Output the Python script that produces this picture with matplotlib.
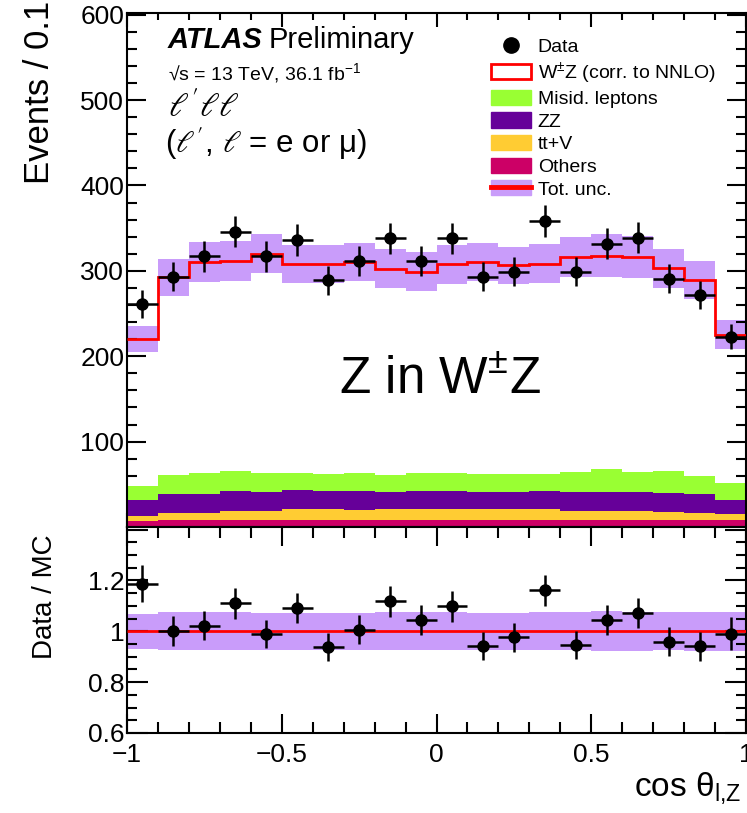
import numpy as np
import matplotlib
matplotlib.use('Agg')
import matplotlib.pyplot as plt
from matplotlib.patches import Patch
from matplotlib.lines import Line2D
from matplotlib.ticker import MultipleLocator, FuncFormatter

plt.rcParams['font.family'] = ['Liberation Sans', 'DejaVu Sans']
plt.rcParams['mathtext.fontset'] = 'custom'
plt.rcParams['mathtext.rm'] = 'Liberation Sans'
plt.rcParams['mathtext.it'] = 'Liberation Sans:italic'
plt.rcParams['mathtext.bf'] = 'Liberation Sans:bold'

# ---------------- data ----------------
bin_low, bin_high, n_bins = -1.0, 1.0, 20
data_counts = [261, 293, 317, 346, 317, 336, 289, 312, 338, 312,
               338, 293, 299, 358, 299, 332, 339, 291, 272, 223]
others = [7.0, 8.2, 8.2, 8.2, 8.2, 8.2, 8.2, 8.2, 8.2, 8.2,
          8.2, 8.2, 8.2, 8.2, 8.2, 8.2, 8.2, 8.2, 8.2, 8.2]
ttv = [5.9, 7.8, 7.8, 10.6, 10.6, 12.5, 12.5, 11.4, 12.5, 12.5,
       12.5, 12.5, 12.5, 12.5, 10.6, 10.6, 10.6, 9.4, 8.2, 6.7]
zz = [18.4, 22.3, 22.3, 23.5, 22.3, 22.7, 21.9, 23.0, 20.4, 21.6,
      21.6, 20.4, 20.4, 21.6, 22.3, 22.3, 22.3, 21.9, 21.9, 16.4]
misid = [16.8, 22.3, 25.5, 23.4, 21.9, 19.6, 19.2, 20.4, 19.5, 20.7,
         20.7, 20.7, 20.7, 19.5, 23.4, 27.4, 23.4, 26.2, 20.9, 20.7]
wz = [171.7, 231.9, 246.5, 246.2, 257.2, 244.9, 246.1, 247.3, 241.8, 236.2,
      244.9, 248.9, 244.5, 246.5, 251.8, 249.4, 251.8, 237.5, 230.1, 173.0]
rel_unc = [0.069, 0.075, 0.074, 0.075, 0.072, 0.073, 0.073, 0.072, 0.075, 0.075,
           0.074, 0.072, 0.072, 0.074, 0.074, 0.078, 0.077, 0.075, 0.076, 0.076]

labels = ['Data', 'W$^{\\pm}$Z (corr. to NNLO)', 'Misid. leptons', 'ZZ',
          'tt+V', 'Others', 'Tot. unc.']
c_band = '#c99cfa'
c_misid = '#99ff33'
c_zz = '#660099'
c_ttv = '#ffcc33'
c_oth = '#cc0066'

# ---------------- derived ----------------
edges = np.linspace(bin_low, bin_high, n_bins + 1)
centers = 0.5 * (edges[:-1] + edges[1:])
half_w = 0.5 * (edges[1] - edges[0])
d = np.array(data_counts, float)
s1 = np.array(others)
s2 = s1 + np.array(ttv)
s3 = s2 + np.array(zz)
s4 = s3 + np.array(misid)
tot = s4 + np.array(wz)
ru = np.array(rel_unc)

fig = plt.figure(figsize=(7.47, 8.13), dpi=100)
W, H = 747.0, 813.0
L, R = 127, 746
ax1 = fig.add_axes([L / W, 1 - 527 / H, (R - L) / W, (527 - 13) / H])
ax2 = fig.add_axes([L / W, 1 - 733 / H, (R - L) / W, (733 - 527) / H], sharex=ax1)

# ---------------- top panel ----------------
ax1.stairs(tot * (1 + ru), edges, baseline=tot * (1 - ru), fill=True,
           color=c_band, lw=0, zorder=1)
ax1.stairs(s1, edges, baseline=0, fill=True, color=c_oth, lw=0, zorder=2)
ax1.stairs(s2, edges, baseline=s1, fill=True, color=c_ttv, lw=0, zorder=2)
ax1.stairs(s3, edges, baseline=s2, fill=True, color=c_zz, lw=0, zorder=2)
ax1.stairs(s4, edges, baseline=s3, fill=True, color=c_misid, lw=0, zorder=2)
ax1.stairs(tot, edges, baseline=None, color='red', lw=2.0, zorder=3)
ax1.errorbar(centers, d, xerr=half_w, yerr=np.sqrt(d), fmt='o', color='black',
             ms=8, elinewidth=1.8, capsize=0, zorder=5)
ax1.set_xlim(bin_low, bin_high)
ax1.set_ylim(0, 602)

# ---------------- ratio panel ----------------
ax2.stairs(1 + ru, edges, baseline=1 - ru, fill=True, color=c_band, lw=0, zorder=1)
ax2.stairs(np.ones(n_bins), edges, baseline=None, color='red', lw=2.0, zorder=3)
ax2.errorbar(centers, d / tot, xerr=half_w, yerr=np.sqrt(d) / tot, fmt='o',
             color='black', ms=8, elinewidth=1.8, capsize=0, zorder=5)
ax2.set_ylim(0.6, 1.41)

# ---------------- axes styling ----------------
for ax in (ax1, ax2):
    for sp in ax.spines.values():
        sp.set_linewidth(1.5)
    ax.xaxis.set_major_locator(MultipleLocator(0.5))
    ax.xaxis.set_minor_locator(MultipleLocator(0.1))
ax1.yaxis.set_major_locator(MultipleLocator(100))
ax1.yaxis.set_minor_locator(MultipleLocator(20))
ax2.yaxis.set_major_locator(MultipleLocator(0.2))
ax2.yaxis.set_minor_locator(MultipleLocator(0.05))
ax1.yaxis.set_major_formatter(FuncFormatter(lambda v, p: '' if v < 50 else '%g' % v))
ax2.yaxis.set_major_formatter(FuncFormatter(lambda v, p: '' if v > 1.3 else '%g' % round(v, 2)))
ax2.xaxis.set_major_formatter(FuncFormatter(lambda v, p: ('%g' % round(v, 2)).replace('-', '\u2212')))

ax1.tick_params(axis='both', which='both', direction='in', top=True, right=True, width=1.5)
ax1.tick_params(axis='y', which='major', length=14, labelsize=19, pad=2)
ax1.tick_params(axis='y', which='minor', length=7)
ax1.tick_params(axis='x', which='major', length=10, labelbottom=False)
ax1.tick_params(axis='x', which='minor', length=5)
ax2.tick_params(axis='both', which='both', direction='in', top=True, right=True, width=1.5)
ax2.tick_params(axis='y', which='major', length=15, labelsize=19, pad=2)
ax2.tick_params(axis='y', which='minor', length=7)
ax2.tick_params(axis='x', which='major', length=14, labelsize=19, pad=7)
ax2.tick_params(axis='x', which='minor', length=8)

# ---------------- labels ----------------
fig.text(40 / W, 1 - 1 / H, 'Events / 0.1', rotation=90, ha='center', va='top', fontsize=25)
fig.text(45 / W, 1 - 597 / H, 'Data / MC', rotation=90, ha='center', va='center', fontsize=20)
fig.text(634 / W, 1 - 788 / H, r'cos $\mathrm{\theta}_{\mathrm{l{,}Z}}$', ha='left',
         va='center', fontsize=24)

# ---------------- annotations ----------------
t = ax1.text(0.066, 0.947, 'ATLAS', transform=ax1.transAxes, fontsize=21,
             fontweight='bold', fontstyle='italic', va='center', ha='left')
ax1.annotate('Preliminary', xy=(1, 0), xycoords=t, xytext=(4, 0),
             textcoords='offset points', fontsize=21, va='bottom', ha='left')
ax1.text(0.066, 0.884, '√s = 13 TeV, 36.1 fb$^{\\mathregular{-1}}$', transform=ax1.transAxes,
         fontsize=14, va='center', ha='left')
ax1.text(0.066, 0.817, r"$\ell^{\prime}\ell\ell$", transform=ax1.transAxes, fontsize=24,
         math_fontfamily='stix', va='center', ha='left')
ax1.text(0.062, 0.745, r"($\ell^{\prime}$, $\ell$ = e or μ)", transform=ax1.transAxes,
         fontsize=22.5, math_fontfamily='stix', va='center', ha='left')
ax1.text(0.506, 0.285, 'Z in W$^{\\pm}$Z', transform=ax1.transAxes, fontsize=37,
         va='center', ha='center')

handles = [
    Line2D([], [], marker='o', color='black', linestyle='none', markersize=11),
    Patch(facecolor='white', edgecolor='red', linewidth=2),
    Patch(facecolor=c_misid, edgecolor=c_misid),
    Patch(facecolor=c_zz, edgecolor=c_zz),
    Patch(facecolor=c_ttv, edgecolor=c_ttv),
    Patch(facecolor=c_oth, edgecolor=c_oth),
    (Patch(facecolor=c_band, edgecolor=c_band), Line2D([], [], color='red', lw=3.5)),
]
ax1.legend(handles, labels, loc='upper left', bbox_to_anchor=(0.588, 0.952),
           frameon=False, fontsize=14, handlelength=2.05, handleheight=0.82,
           handletextpad=0.35, labelspacing=0.22, borderpad=0, borderaxespad=0)

fig.savefig('out.png', dpi=100)
